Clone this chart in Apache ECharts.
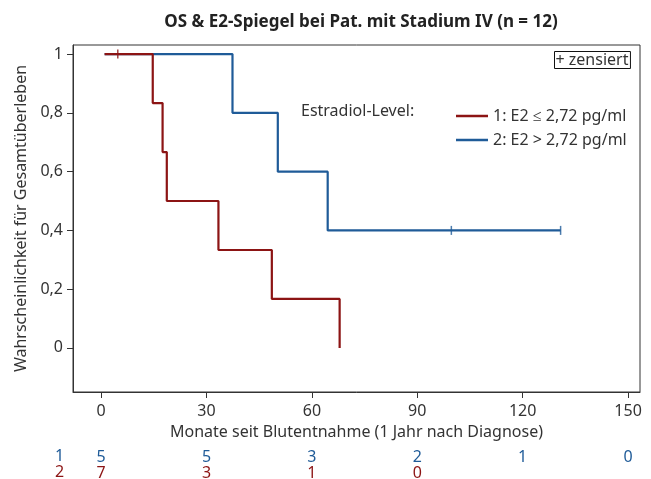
<!DOCTYPE html>
<html><head><meta charset="utf-8">
<script src="https://cdn.jsdelivr.net/npm/echarts@6/dist/echarts.min.js"></script>
<style>html,body{margin:0;padding:0;background:#fff}#c{width:651px;height:479px}</style>
</head><body><div id="c"></div>
<script>
var xTicks = [0, 30, 60, 90, 120, 150];
var yTicks = [0, 0.2, 0.4, 0.6, 0.8, 1];
var group1Name = '1: E2 \u2264 2,72 pg/ml';
var group2Name = '2: E2 > 2,72 pg/ml';
var group1Curve = [[1, 1], [14.7, 0.8333], [17.5, 0.6667], [18.7, 0.5], [33.4, 0.3333], [48.6, 0.1667], [67.9, 0]];
var group2Curve = [[1, 1], [37.4, 0.8], [50.3, 0.6], [64.5, 0.4], [130.8, 0.4]];
var group1Censored = [[4.75, 1]];
var group2Censored = [[99.7, 0.4], [130.8, 0.4]];
var group1AtRisk = [7, 3, 1, 0, null, null];
var group2AtRisk = [5, 5, 3, 2, 1, 0];

var RED = '#8C1414', BLUE = '#1F5B98', TXT = '#333', FONT = 'Noto Sans';
var XMIN = -8, XMAX = 153.4, YMIN = -0.15, YMAX = 1.031;

function atRiskAxis(arr, color, offset) {
  return {
    type: 'value', min: XMIN, max: XMAX, position: 'bottom', offset: offset,
    axisLine: {show: false}, axisTick: {show: false}, splitLine: {show: false},
    axisLabel: {
      customValues: xTicks, color: color, fontSize: 16, fontFamily: FONT, margin: 8,
      formatter: function (v) { var i = xTicks.indexOf(v); var n = i >= 0 ? arr[i] : null; return n === null || n === undefined ? '' : String(n); }
    }
  };
}

var chart = echarts.init(document.getElementById('c'));
chart.setOption({
  animation: false,
  backgroundColor: '#fff',
  textStyle: {fontFamily: FONT, color: TXT},
  title: {
    text: 'OS & E2-Spiegel bei Pat. mit Stadium IV (n = 12)',
    left: 356, top: 9, textAlign: 'center',
    textStyle: {fontSize: 17, fontWeight: 'bold', color: '#222', fontFamily: FONT}
  },
  grid: {left: 73, right: 11, top: 45, bottom: 87, show: true, borderColor: '#333', borderWidth: 1,
    containLabel: false, outerBoundsMode: 'none'},
  legend: {
    data: [group1Name, group2Name], orient: 'vertical', left: 451, top: 103,
    icon: 'rect', itemWidth: 32, itemHeight: 2.5, itemGap: 8,
    textStyle: {fontSize: 16, color: TXT, fontFamily: FONT}
  },
  graphic: [
    {type: 'text', left: 301, top: 103, style: {text: 'Estradiol-Level:', fontSize: 16, fill: TXT, fontFamily: FONT}},
    {type: 'text', left: 554, top: 51, style: {text: '+ zensiert', fontSize: 16, fill: TXT, fontFamily: FONT,
      borderColor: '#111', borderWidth: 1, padding: [1, 2, 0, 1]}},
    {type: 'text', left: 55, top: 448, style: {text: '1', fontSize: 16, fill: BLUE, fontFamily: FONT}},
    {type: 'text', left: 55, top: 464, style: {text: '2', fontSize: 16, fill: RED, fontFamily: FONT}}
  ],
  xAxis: [
    {
      type: 'value', min: XMIN, max: XMAX,
      name: 'Monate seit Blutentnahme (1 Jahr nach Diagnose)', nameLocation: 'middle', nameGap: 32,
      nameTextStyle: {fontSize: 16, color: TXT, fontFamily: FONT},
      axisLine: {show: true, onZero: false, lineStyle: {color: '#333', width: 1}},
      axisTick: {show: true, customValues: xTicks, length: 6, lineStyle: {color: '#333'}},
      axisLabel: {customValues: xTicks, fontSize: 16, color: TXT, fontFamily: FONT, margin: 11},
      splitLine: {show: false}
    },
    atRiskAxis(group2AtRisk, BLUE, 49),
    atRiskAxis(group1AtRisk, RED, 65)
  ],
  yAxis: {
    type: 'value', min: YMIN, max: YMAX,
    name: 'Wahrscheinlichkeit f\u00fcr Gesamt\u00fcberleben', nameLocation: 'middle', nameGap: 40,
    nameTextStyle: {fontSize: 16, color: TXT, fontFamily: FONT},
    axisLine: {show: true, onZero: false, lineStyle: {color: '#333', width: 1}},
    axisTick: {show: true, customValues: yTicks, length: 6, lineStyle: {color: '#333'}},
    axisLabel: {customValues: yTicks, fontSize: 16, color: TXT, fontFamily: FONT, margin: 10,
      formatter: function (v) { return String(Math.round(v * 10) / 10).replace('.', ','); }},
    splitLine: {show: false}
  },
  series: [
    {name: group2Name, type: 'line', step: 'end', data: group2Curve, symbol: 'none', color: BLUE,
      lineStyle: {color: BLUE, width: 2.2}, z: 2},
    {name: group1Name, type: 'line', step: 'end', data: group1Curve, symbol: 'none', color: RED,
      lineStyle: {color: RED, width: 2.2}, z: 3},
    {name: 'c2', type: 'scatter', data: group2Censored, symbol: 'rect', symbolSize: [1.5, 9],
      itemStyle: {color: BLUE}, z: 4},
    {name: 'c1', type: 'scatter', data: group1Censored, symbol: 'rect', symbolSize: [1.5, 9],
      itemStyle: {color: RED}, z: 4}
  ]
});
</script></body></html>
